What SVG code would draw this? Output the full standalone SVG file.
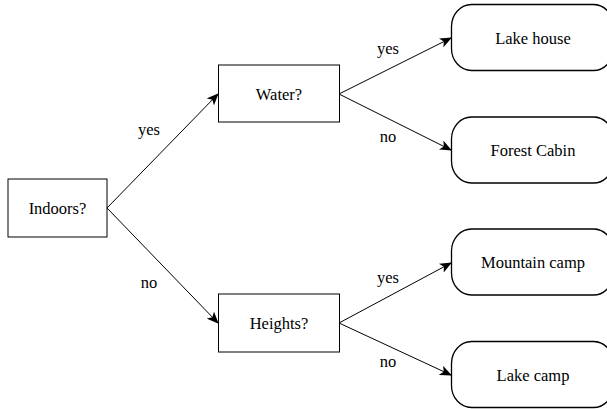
<svg xmlns="http://www.w3.org/2000/svg" width="607" height="409" viewBox="0 0 607 409">
  <style>
    .box { fill: #ffffff; stroke: #000000; stroke-width: 1; }
    .leaf { fill: #ffffff; stroke: #000000; stroke-width: 1.3; }
    .lbl { font-family: 'Liberation Serif', 'DejaVu Serif', serif; font-size: 16.5px; fill: #000000; text-anchor: middle; dominant-baseline: central; }
    .edge { stroke: #000000; stroke-width: 1; fill: none; marker-end: url(#arrow); }
  </style>
  <defs>
    <marker id="arrow" viewBox="0 0 12 10" refX="11" refY="5" markerWidth="12" markerHeight="10" markerUnits="userSpaceOnUse" orient="auto">
      <path d="M0,0 L12,5 L0,10 L3,5 Z" fill="#000000"/>
    </marker>
  </defs>
  <rect width="607" height="409" fill="#ffffff"/>

  <g id="connectors">
    <line class="edge" x1="107" y1="208" x2="218" y2="94"/>
    <line class="edge" x1="107" y1="208" x2="218" y2="323"/>
    <line class="edge" x1="339" y1="94" x2="451" y2="38"/>
    <line class="edge" x1="339" y1="94" x2="451" y2="150"/>
    <line class="edge" x1="339" y1="323" x2="451" y2="263"/>
    <line class="edge" x1="339" y1="323" x2="451" y2="375"/>
    <text class="lbl" font-family="Liberation Serif" x="149" y="129">yes</text>
    <text class="lbl" font-family="Liberation Serif" x="149" y="282">no</text>
    <text class="lbl" font-family="Liberation Serif" x="388" y="48">yes</text>
    <text class="lbl" font-family="Liberation Serif" x="388" y="136">no</text>
    <text class="lbl" font-family="Liberation Serif" x="388" y="277">yes</text>
    <text class="lbl" font-family="Liberation Serif" x="388" y="361">no</text>
  </g>

  <g id="indoors">
    <rect class="box" x="8" y="179" width="99" height="58"/>
    <text class="lbl" x="57.5" y="208">Indoors?</text>
  </g>
  <g id="water">
    <rect class="box" x="218.5" y="65" width="121" height="57"/>
    <text class="lbl" x="279" y="94">Water?</text>
  </g>
  <g id="heights">
    <rect class="box" x="218.5" y="294" width="121" height="58"/>
    <text class="lbl" x="279" y="323">Heights?</text>
  </g>
  <g id="lake-house">
    <rect class="leaf" x="451.5" y="4.5" width="162" height="66" rx="20" ry="22"/>
    <text class="lbl" x="533" y="38">Lake house</text>
  </g>
  <g id="forest-cabin">
    <rect class="leaf" x="451.5" y="117" width="162" height="66" rx="20" ry="22"/>
    <text class="lbl" x="533" y="150">Forest Cabin</text>
  </g>
  <g id="mountain-camp">
    <rect class="leaf" x="451.5" y="229" width="162" height="66" rx="20" ry="22"/>
    <text class="lbl" x="533" y="262">Mountain camp</text>
  </g>
  <g id="lake-camp">
    <rect class="leaf" x="451.5" y="341.5" width="162" height="66" rx="20" ry="22"/>
    <text class="lbl" x="533" y="375">Lake camp</text>
  </g>
</svg>
